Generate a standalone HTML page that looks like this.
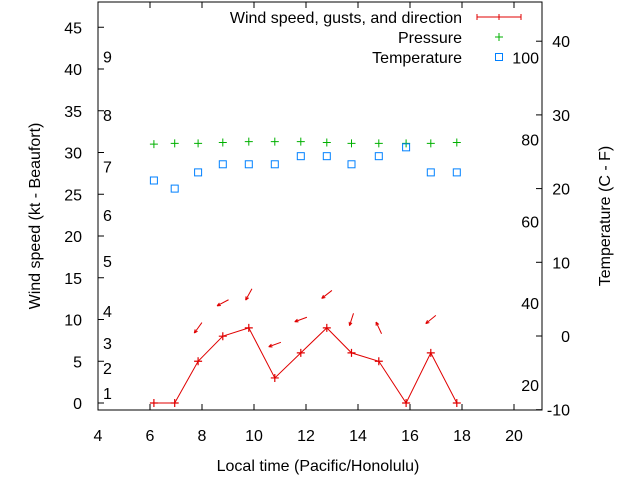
<!DOCTYPE html>
<html><head><meta charset="utf-8"><style>
body{margin:0;background:#fff}
svg{display:block;font-family:"Liberation Sans",sans-serif;font-size:16px}
</style></head><body>
<svg id="c" width="640" height="480" xmlns="http://www.w3.org/2000/svg"></svg>
<script>
const times=[6.15,6.95,7.85,8.8,9.8,10.8,11.8,12.8,13.75,14.8,15.85,16.8,17.8];
const windSpeed=[0,0,5,8,9,3,6,9,6,5,0,6,0];
const windFrom=[0,0,36,62,29,70,70,52,18,155,0,51,0];
const pressure=[31.0,31.1,31.1,31.2,31.3,31.3,31.3,31.2,31.1,31.1,31.1,31.1,31.2];
const tempC=[21.1,20.0,22.2,23.3,23.3,23.3,24.4,24.4,23.3,24.4,25.6,22.2,22.2];
const xTicks=[4,6,8,10,12,14,16,18,20];
const yTicks=[0,5,10,15,20,25,30,35,40,45];
const y2Ticks=[-10,0,10,20,30,40];
const beaufortLabels=["1","2","3","4","5","6","7","8","9"];
const beaufortY=[1.2,4.2,7.2,11,17,22.5,28.3,34.5,41.5];
const fahrLabels=[20,40,60,80,100];

const L=98,R=542,T=2,B=410;
const X=t=>L+(t-4)*26;
const Y=v=>403-v*8.35;
const Y2=c=>336-c*7.37;
const F2C=f=>(f-32)*5/9;
const svg=document.getElementById('c');
const NS="http://www.w3.org/2000/svg";
function mk(tag,attrs,parent){const e=document.createElementNS(NS,tag);for(const k in attrs)e.setAttribute(k,attrs[k]);(parent||svg).appendChild(e);return e;}

const frame=mk('rect',{x:L,y:T,width:R-L,height:B-T,fill:'none',stroke:'#000','stroke-width':1});



xTicks.forEach(t=>{
  const g=mk('g',{});
  
  
  mk('line',{x1:X(t),x2:X(t),y1:B,y2:B-6,stroke:'#000'},g);
  mk('line',{x1:X(t),x2:X(t),y1:T,y2:T+6,stroke:'#000'},g);
  const tx=mk('text',{x:X(t),y:B+31,'text-anchor':'middle'},g);tx.textContent=t;
});
yTicks.forEach(v=>{
  const g=mk('g',{});
  
  
  mk('line',{x1:L,x2:L+6,y1:Y(v),y2:Y(v),stroke:'#000'},g);
  const tx=mk('text',{x:L-16,y:Y(v)+6,'text-anchor':'end'},g);tx.textContent=v;
});
y2Ticks.forEach(v=>{
  const g=mk('g',{});
  
  
  mk('line',{x1:R,x2:R-6,y1:Y2(v),y2:Y2(v),stroke:'#000'},g);
  const tx=mk('text',{x:R+28,y:Y2(v)+6,'text-anchor':'end'},g);tx.textContent=v;
});
beaufortLabels.forEach((s,i)=>{
  const tx=mk('text',{x:103,y:Y(beaufortY[i])+6});
  
  
  tx.textContent=s;
});
fahrLabels.forEach(f=>{
  const tx=mk('text',{x:539,y:Y2(F2C(f))+6,'text-anchor':'end'});
  
  
  tx.textContent=f;
});

let t1=mk('text',{x:0,y:0,'text-anchor':'middle',transform:'translate(40,216) rotate(-90)'});


t1.textContent='Wind speed (kt - Beaufort)';
let t2=mk('text',{x:0,y:0,'text-anchor':'middle',transform:'translate(610,216) rotate(-90)'});


t2.textContent='Temperature (C - F)';
let t3=mk('text',{x:318,y:471,'text-anchor':'middle'});


t3.textContent='Local time (Pacific/Honolulu)';

const pts=times.map((t,i)=>X(t)+','+Y(windSpeed[i])).join(' ');
const wl=mk('polyline',{points:pts,fill:'none',stroke:'#e00000','stroke-width':1});


times.forEach((t,i)=>{
  const x=X(t),y=Y(windSpeed[i]);
  const p=mk('path',{d:`M${x-4},${y}h8M${x},${y-4}v8`,stroke:'#e00000','stroke-width':1.2});
  
  
  if(windSpeed[i]>0){
    const a=windFrom[i]*Math.PI/180,len=13;
    const dx=Math.sin(a)*len/2,dy=-Math.cos(a)*len/2;
    const cx=x,cy=Y(windSpeed[i]+4);
    const hx=cx-dx,hy=cy-dy;
    const ux=-dx/(len/2),uy=-dy/(len/2);
    const ar=mk('path',{d:`M${cx+dx},${cy+dy}L${hx},${hy}M${hx},${hy}L${hx-ux*3.5-uy*1.5},${hy-uy*3.5+ux*1.5}M${hx},${hy}L${hx-ux*3.5+uy*1.5},${hy-uy*3.5-ux*1.5}`,stroke:'#e00000','stroke-width':1,fill:'none'});
    
    
  }
});
pressure.forEach((v,i)=>{
  const x=X(times[i]),y=Y(v);
  const p=mk('path',{d:`M${x-4},${y}h8M${x},${y-4}v8`,stroke:'#00b000','stroke-width':1});
  
  
});
tempC.forEach((c,i)=>{
  const x=X(times[i]),y=Y2(c);
  const r=mk('rect',{x:x-3.5,y:y-3.5,width:7,height:7,fill:'none',stroke:'#0080ff','stroke-width':1});
  
  
});

const lg=mk('g',{});


[['Wind speed, gusts, and direction',17],['Pressure',37],['Temperature',57]].forEach(([s,y])=>{
  const tx=mk('text',{x:462,y:y+6,'text-anchor':'end'},lg);
  
  
  tx.textContent=s;
});
mk('path',{d:'M477,17h44M477,14v6M499,14v6M521,14v6',stroke:'#e00000','stroke-width':1},lg);
mk('path',{d:'M495,37h8M499,33v8',stroke:'#00b000','stroke-width':1},lg);
mk('rect',{x:495.5,y:53.5,width:7,height:7,fill:'none',stroke:'#0080ff','stroke-width':1},lg);
</script>
</body></html>
